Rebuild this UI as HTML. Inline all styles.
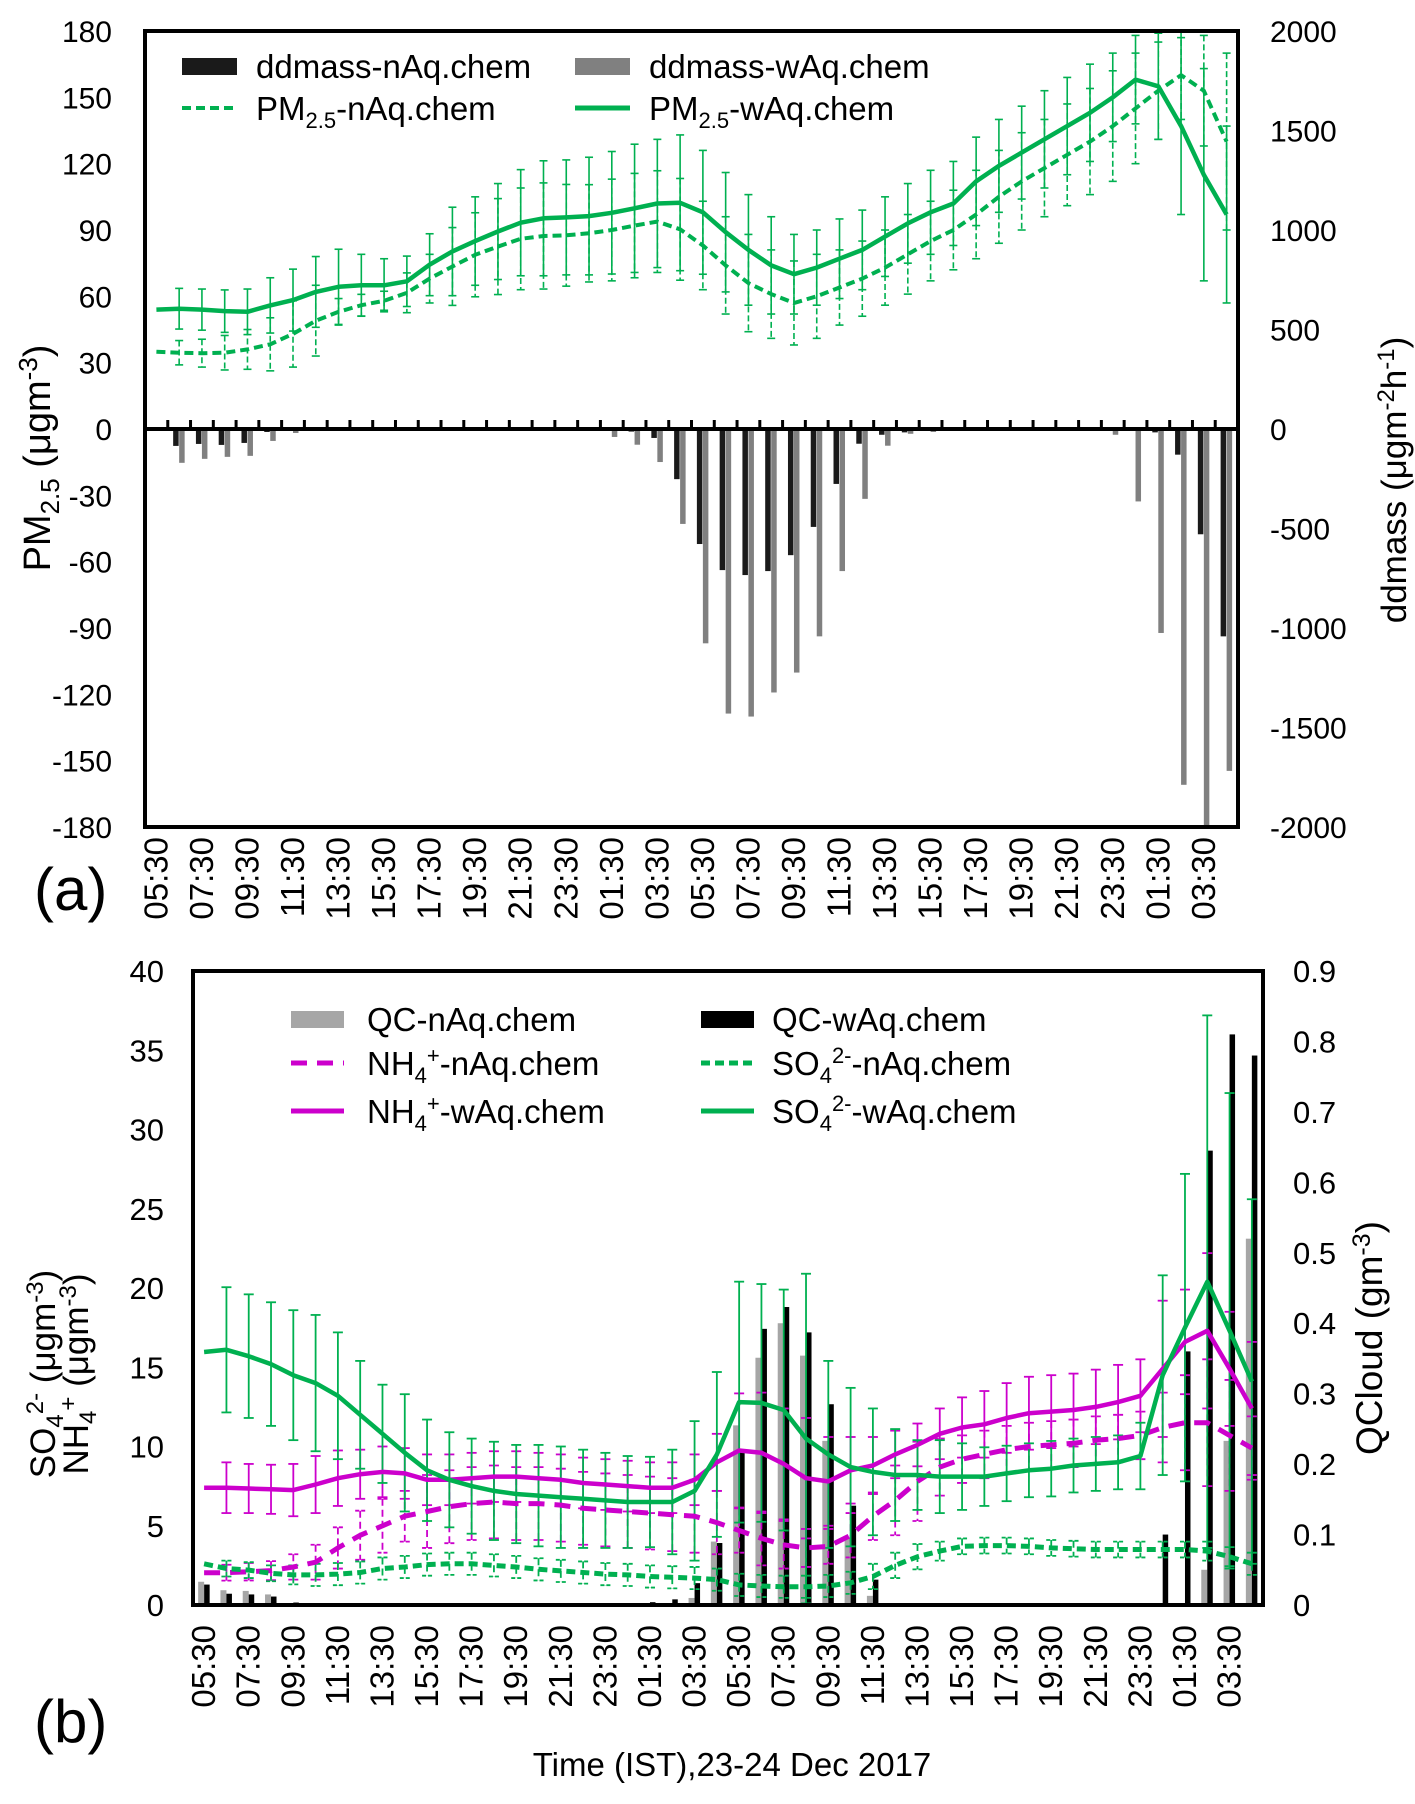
<!DOCTYPE html>
<html><head><meta charset="utf-8">
<style>
html,body{margin:0;padding:0;background:#fff;}
svg{display:block;font-family:"Liberation Sans",Arial,sans-serif;}
</style></head>
<body>
<svg id="fig" width="1415" height="1804" viewBox="0 0 1415 1804" xmlns="http://www.w3.org/2000/svg">
<defs>
<clipPath id="clipA"><rect x="145" y="31" width="1093" height="796"/></clipPath>
<clipPath id="clipB"><rect x="193" y="971" width="1070" height="634"/></clipPath>
</defs>
<g id="panelA"></g>
<g id="panelB"></g>

<!-- Panel A static text -->
<text x="34" y="910" font-size="60">(a)</text>
<text transform="translate(50,458) rotate(-90)" text-anchor="middle" font-size="38">PM<tspan font-size="26" dy="9">2.5</tspan><tspan dy="-9"> (μgm</tspan><tspan font-size="26" dy="-13">-3</tspan><tspan dy="13">)</tspan></text>
<text transform="translate(1406,480) rotate(-90)" text-anchor="middle" font-size="35">ddmass (μgm<tspan font-size="24" dy="-12">-2</tspan><tspan dy="12">h</tspan><tspan font-size="24" dy="-12">-1</tspan><tspan dy="12">)</tspan></text>

<g>
<g><rect x="182" y="58" width="55" height="17" fill="#1a1a1a"/><text x="256" y="78" font-size="33">ddmass-nAq.chem</text></g>
<g><rect x="575" y="58" width="55" height="17" fill="#808080"/><text x="649" y="78" font-size="33">ddmass-wAq.chem</text></g>
<g><line x1="182" y1="108" x2="237" y2="108" stroke="#00B050" stroke-width="4" stroke-dasharray="9,5"/><text x="256" y="120" font-size="33">PM<tspan font-size="22" dy="8">2.5</tspan><tspan dy="-8">-nAq.chem</tspan></text></g>
<g><line x1="575" y1="108" x2="630" y2="108" stroke="#00B050" stroke-width="5"/><text x="649" y="120" font-size="33">PM<tspan font-size="22" dy="8">2.5</tspan><tspan dy="-8">-wAq.chem</tspan></text></g>
</g>

<!-- Panel B static text -->
<text x="34" y="1742" font-size="60">(b)</text>
<text transform="translate(55,1374) rotate(-90)" text-anchor="middle" font-size="35">SO<tspan font-size="24" dy="8">4</tspan><tspan font-size="24" dy="-20">2-</tspan><tspan dy="12"> (μgm</tspan><tspan font-size="24" dy="-12">-3</tspan><tspan dy="12">)</tspan></text>
<text transform="translate(88,1374) rotate(-90)" text-anchor="middle" font-size="35">NH<tspan font-size="24" dy="8">4</tspan><tspan font-size="24" dy="-20">+</tspan><tspan dy="12"> (μgm</tspan><tspan font-size="24" dy="-12">-3</tspan><tspan dy="12">)</tspan></text>
<text transform="translate(1382,1338) rotate(-90)" text-anchor="middle" font-size="37">QCloud (gm<tspan font-size="25" dy="-12">-3</tspan><tspan dy="12">)</tspan></text>
<text x="732" y="1776" text-anchor="middle" font-size="33">Time (IST),23-24 Dec 2017</text>

<g>
<g><rect x="291" y="1011" width="53" height="17" fill="#A6A6A6"/><text x="367" y="1031" font-size="33">QC-nAq.chem</text></g>
<g><rect x="701" y="1011" width="53" height="17" fill="#000"/><text x="772" y="1031" font-size="33">QC-wAq.chem</text></g>
<g><line x1="291" y1="1063" x2="344" y2="1063" stroke="#CC00CC" stroke-width="5" stroke-dasharray="16,10"/><text x="367" y="1075" font-size="33">NH<tspan font-size="22" dy="8">4</tspan><tspan font-size="22" dy="-20">+</tspan><tspan dy="12">-nAq.chem</tspan></text></g>
<g><line x1="701" y1="1063" x2="754" y2="1063" stroke="#00B050" stroke-width="5" stroke-dasharray="9,5"/><text x="772" y="1075" font-size="33">SO<tspan font-size="22" dy="8">4</tspan><tspan font-size="22" dy="-20">2-</tspan><tspan dy="12">-nAq.chem</tspan></text></g>
<g><line x1="291" y1="1111" x2="344" y2="1111" stroke="#CC00CC" stroke-width="5"/><text x="367" y="1123" font-size="33">NH<tspan font-size="22" dy="8">4</tspan><tspan font-size="22" dy="-20">+</tspan><tspan dy="12">-wAq.chem</tspan></text></g>
<g><line x1="701" y1="1111" x2="754" y2="1111" stroke="#00B050" stroke-width="5"/><text x="772" y="1123" font-size="33">SO<tspan font-size="22" dy="8">4</tspan><tspan font-size="22" dy="-20">2-</tspan><tspan dy="12">-wAq.chem</tspan></text></g>
</g>
</svg>

<script>
// ---------- shared categories ----------
const timeLabels = ["05:30","07:30","09:30","11:30","13:30","15:30","17:30","19:30","21:30","23:30","01:30","03:30","05:30","07:30","09:30","11:30","13:30","15:30","17:30","19:30","21:30","23:30","01:30","03:30"];
const nCats = 48;

// ---------- panel (a) data ----------
const pmTicks = [-180,-150,-120,-90,-60,-30,0,30,60,90,120,150,180];
const ddTicks = [-2000,-1500,-1000,-500,0,500,1000,1500,2000];
const pmNaq = [34.9,34.5,34.3,34.5,36,38.3,43,49,53,56,58,61.6,68,73.5,78.8,82.5,86,87.3,87.6,88.5,90,92,93.8,90.3,83,74,66,61,57,60,64,68,73,79,85,90,97,105,112,118,124,130,137,145,153,160,153,130];
const pmNaqErr = [0,5.5,6.3,7.8,9,12,15,16,6,4.9,4.3,9,11,17.6,19,21.7,23,24,23,22,23,23.6,23,23,20,22,22,20,19,19,17,17,17,18,18,18,20,21,22,22,23,24,25,25,22,20,25,40];
const pmWaq = [54,54.4,54,53.3,53,55.9,58.3,62,64.3,65,65,66.8,74.3,80.3,85,89.3,93.3,95.3,95.7,96.3,97.8,99.8,102,102.3,98,89,81,74,70,73,77,81,87,93,98,102,112,119,125,131,137,143,150,158,155,137,115,97];
const pmWaqErr = [0,9.2,9.3,9.6,10.3,12.5,14,16,17,14,12,11.4,14,20,20,21.7,24,26,26,26.6,27.7,29,29,30.7,28,27,25,22,18,17,18,18,18,18,19,19,20,21,21,22,22,22,20,20,24,40,48,40];
const ddNaq = [0,-85,-75,-80,-70,-15,-5,-5,-5,-3,-3,-3,-3,-3,-3,-3,-3,-3,-3,-5,-5,-13,-45,-252,-578,-709,-734,-714,-634,-492,-276,-74,-29,-17,-5,-5,-5,-5,-5,-5,-5,-5,-5,-5,-17,-129,-529,-1042];
const ddWaq = [0,-170,-150,-140,-135,-60,-20,-10,-10,-8,-8,-8,-8,-8,-5,-5,-5,-5,-10,-10,-40,-79,-166,-477,-1077,-1430,-1445,-1324,-1224,-1042,-714,-351,-84,-24,-15,-10,-10,-10,-10,-10,-10,-10,-29,-364,-1025,-1788,-2000,-1718];

// ---------- panel (b) data ----------
const leftTicksB = [0,5,10,15,20,25,30,35,40];
const qcTicks = [0,0.1,0.2,0.3,0.4,0.5,0.6,0.7,0.8,0.9];
const so4Waq = [15.96,16.1,15.7,15.2,14.5,14.0,13.2,12.0,10.8,9.6,8.5,7.9,7.5,7.2,7.0,6.9,6.8,6.7,6.6,6.5,6.5,6.5,7.2,9.5,12.8,12.75,12.3,10.5,9.5,8.7,8.4,8.2,8.2,8.1,8.1,8.1,8.3,8.5,8.6,8.8,8.9,9.0,9.4,14.5,17.5,20.4,17.3,14.1];
const so4WaqErr = [0,3.95,3.9,3.9,4.1,4.3,4.0,3.4,3.1,3.7,3.2,3.0,3.0,3.1,3.1,3.2,3.2,3.1,3.0,2.9,2.85,3.3,4.4,5.2,7.6,7.5,7.6,10.4,5.9,5.0,4.0,2.9,2.2,2.3,2.1,1.85,1.75,1.7,1.75,1.7,1.7,1.7,2.1,6.3,9.7,16.8,15,11.5];
const so4Naq = [2.6,2.3,2.2,2.0,1.9,1.9,1.95,2.05,2.3,2.4,2.55,2.6,2.6,2.5,2.4,2.25,2.15,2.05,1.95,1.9,1.8,1.75,1.7,1.6,1.27,1.2,1.15,1.15,1.2,1.4,1.8,2.5,3.05,3.4,3.7,3.75,3.75,3.7,3.6,3.55,3.5,3.5,3.5,3.5,3.5,3.4,3.05,2.6];
const so4NaqErr = [0,0.5,0.5,0.5,0.6,0.7,0.7,0.7,0.7,0.7,0.7,0.7,0.7,0.7,0.7,0.7,0.7,0.7,0.7,0.7,0.7,0.7,0.7,0.7,0.7,0.7,0.7,0.7,0.7,0.7,0.8,0.8,0.8,0.6,0.5,0.5,0.5,0.5,0.5,0.5,0.5,0.5,0.5,0.5,0.5,0.6,0.6,0.7];
const nh4Waq = [7.4,7.4,7.35,7.3,7.25,7.6,8.0,8.25,8.4,8.3,7.9,7.9,8.0,8.1,8.1,8.0,7.9,7.7,7.6,7.5,7.4,7.4,7.9,9.0,9.75,9.6,8.9,8.0,7.8,8.5,8.8,9.5,10.1,10.8,11.2,11.4,11.8,12.1,12.2,12.3,12.5,12.8,13.2,14.9,16.6,17.3,14.9,12.4];
const nh4WaqErr = [0,1.6,1.55,1.55,1.65,1.8,1.75,1.55,1.6,1.6,1.6,1.6,1.6,1.6,1.6,1.6,1.6,1.6,1.6,1.6,1.6,1.6,1.6,1.8,3.6,3.8,3.5,3.8,2.8,2.1,1.8,1.5,1.35,1.6,1.9,2.1,2.2,2.3,2.3,2.3,2.35,2.35,2.3,4.3,3.3,4.9,3.6,4.2];
const nh4Naq = [2.04,2.04,2.1,2.17,2.4,2.7,3.6,4.4,5.0,5.6,5.9,6.2,6.4,6.5,6.4,6.4,6.3,6.1,6.0,5.9,5.8,5.7,5.6,5.2,4.7,4.2,3.8,3.6,3.7,4.4,5.6,6.6,7.8,8.7,9.2,9.5,9.8,10.0,10.1,10.2,10.4,10.5,10.7,11.2,11.5,11.5,10.7,9.9];
const nh4NaqErr = [0,0.5,0.55,0.6,0.8,1.1,1.3,1.55,1.7,1.6,2.3,2.3,2.3,2.3,2.3,2.3,2.3,2.3,2.3,2.3,2.3,2.3,2.3,2.0,1.4,1.7,1.5,1.2,1.1,1.4,1.5,2.2,2.5,1.8,1.5,1.5,1.5,1.5,1.5,1.5,1.5,1.5,1.5,2.2,3.0,4.0,3.5,2.0];
const qcNaq = [0.033,0.021,0.02,0.015,0,0,0,0,0,0,0,0,0,0,0,0,0,0,0,0,0,0,0.01,0.09,0.255,0.351,0.40,0.354,0.233,0.095,0.013,0,0,0,0,0,0,0,0,0,0,0,0,0,0,0.05,0.233,0.52];
const qcWaq = [0.029,0.016,0.015,0.012,0.0035,0,0,0,0,0,0,0,0,0,0,0,0,0,0,0,0.004,0.008,0.031,0.088,0.22,0.392,0.423,0.387,0.285,0.141,0.036,0.002,0,0,0,0,0,0,0,0,0,0,0,0.1,0.36,0.645,0.81,0.78];

const NS = "http://www.w3.org/2000/svg";
function mk(tag, attrs, parent) {
  const e = document.createElementNS(NS, tag);
  for (const k in attrs) e.setAttribute(k, attrs[k]);
  parent.appendChild(e);
  return e;
}

// ---------- Panel A ----------
(function(){
  const g = document.getElementById('panelA');
  const L=145,R=1238,T=31,B=827;
  const w=(R-L)/nCats;
  const xc=i=>L+(i+0.5)*w;
  const yL=v=>T+(180-v)/360*(B-T);
  const yR=v=>T+(2000-v)/4000*(B-T);
  const clip = mk('g',{'clip-path':'url(#clipA)'},g);
  ddNaq.forEach((v,i)=>{
    if(!v) return;
    const r = mk('rect',{x:xc(i)-6,y:yR(0),width:5.5,height:yR(v)-yR(0),fill:'#1a1a1a'},clip);
    
    
  });
  ddWaq.forEach((v,i)=>{
    if(!v) return;
    const r = mk('rect',{x:xc(i),y:yR(0),width:5.5,height:yR(v)-yR(0),fill:'#808080'},clip);
    
    
  });
  function errs(vals, e, dash, name){
    vals.forEach((v,i)=>{
      if(!e[i]) return;
      const x=xc(i);
      const t=Math.max(-180,Math.min(180,v+e[i])), b=Math.max(-180,Math.min(180,v-e[i]));
      const eg = mk('g',{stroke:'#00B050','stroke-width':1.6,fill:'none'},clip);
      
      
      const a={x1:x,y1:yL(t),x2:x,y2:yL(b)};
      if(dash) a['stroke-dasharray']='6,3';
      mk('line',a,eg);
      if(v+e[i]<180) mk('line',{x1:x-4,y1:yL(t),x2:x+4,y2:yL(t)},eg);
      if(v-e[i]>-180) mk('line',{x1:x-4,y1:yL(b),x2:x+4,y2:yL(b)},eg);
    });
  }
  errs(pmNaq,pmNaqErr,true,'pm25-naq-error-bar');
  errs(pmWaq,pmWaqErr,false,'pm25-waq-error-bar');
  const lp = v=>v.map((d,i)=>xc(i).toFixed(1)+','+yL(d).toFixed(1)).join(' ');
  const l1 = mk('polyline',{points:lp(pmNaq),fill:'none',stroke:'#00B050','stroke-width':4,'stroke-dasharray':'9,5'},clip);
  
  
  const l2 = mk('polyline',{points:lp(pmWaq),fill:'none',stroke:'#00B050','stroke-width':4.5,'stroke-linejoin':'round'},clip);
  
  
  const z = mk('line',{x1:L,y1:yL(0),x2:R,y2:yL(0),stroke:'#000','stroke-width':4},g);
  
  
  for(let i=0;i<=nCats;i++){
    const t = mk('line',{x1:L+i*w,y1:yL(0),x2:L+i*w,y2:yL(0)-9,stroke:'#000','stroke-width':3},g);
    
    
  }
  const box = mk('rect',{x:L,y:T,width:R-L,height:B-T,fill:'none',stroke:'#000','stroke-width':4},g);
  
  
  pmTicks.forEach(v=>{
    const t = mk('text',{x:112,y:yL(v)+11,'text-anchor':'end','font-size':30},g);
    t.textContent=v;
    
    
  });
  ddTicks.forEach(v=>{
    const t = mk('text',{x:1270,y:yR(v)+11,'font-size':30},g);
    t.textContent=v;
    
    
  });
  timeLabels.forEach((s,k)=>{
    const x=xc(2*k)+11, y=B+10;
    const t = mk('text',{transform:`translate(${x},${y}) rotate(-90)`,'text-anchor':'end','font-size':33},g);
    t.textContent=s;
    
    
  });
})();

// ---------- Panel B ----------
(function(){
  const g = document.getElementById('panelB');
  const L=193,R=1263,T=971,B=1605;
  const w=(R-L)/nCats;
  const xc=i=>L+(i+0.5)*w;
  const yL=v=>B-v/40*(B-T);
  const yR=v=>B-v/0.9*(B-T);
  const clip = mk('g',{'clip-path':'url(#clipB)'},g);
  qcNaq.forEach((v,i)=>{
    if(!v) return;
    const r = mk('rect',{x:xc(i)-6,y:yR(v),width:6,height:yR(0)-yR(v),fill:'#A6A6A6'},clip);
    
    
  });
  qcWaq.forEach((v,i)=>{
    if(!v) return;
    const r = mk('rect',{x:xc(i),y:yR(v),width:5.5,height:yR(0)-yR(v),fill:'#000'},clip);
    
    
  });
  function errs(vals,e,color,dash,name){
    vals.forEach((v,i)=>{
      if(!e[i]) return;
      const x=xc(i);
      const t=Math.min(40,v+e[i]), b=Math.max(0,v-e[i]);
      const eg = mk('g',{stroke:color,'stroke-width':1.8,fill:'none'},clip);
      
      
      const a={x1:x,y1:yL(t),x2:x,y2:yL(b)};
      if(dash) a['stroke-dasharray']='7,4';
      mk('line',a,eg);
      const ca={x1:x-5,y1:yL(t),x2:x+5,y2:yL(t)};
      const cb={x1:x-5,y1:yL(b),x2:x+5,y2:yL(b)};
      if(dash){ca['stroke-dasharray']='4,2';cb['stroke-dasharray']='4,2';}
      mk('line',ca,eg); mk('line',cb,eg);
    });
  }
  errs(nh4Naq,nh4NaqErr,'#CC00CC',true,'nh4-naq-error-bar');
  errs(so4Naq,so4NaqErr,'#00B050',true,'so4-naq-error-bar');
  errs(nh4Waq,nh4WaqErr,'#CC00CC',false,'nh4-waq-error-bar');
  errs(so4Waq,so4WaqErr,'#00B050',false,'so4-waq-error-bar');
  const lp = v=>v.map((d,i)=>xc(i).toFixed(1)+','+yL(d).toFixed(1)).join(' ');
  const a1 = mk('polyline',{points:lp(nh4Naq),fill:'none',stroke:'#CC00CC','stroke-width':5,'stroke-dasharray':'16,10'},clip);
  
  
  const a2 = mk('polyline',{points:lp(so4Naq),fill:'none',stroke:'#00B050','stroke-width':5,'stroke-dasharray':'9,5'},clip);
  
  
  const a3 = mk('polyline',{points:lp(nh4Waq),fill:'none',stroke:'#CC00CC','stroke-width':4.5,'stroke-linejoin':'round'},clip);
  
  
  const a4 = mk('polyline',{points:lp(so4Waq),fill:'none',stroke:'#00B050','stroke-width':4.5,'stroke-linejoin':'round'},clip);
  
  
  const box = mk('rect',{x:L,y:T,width:R-L,height:B-T,fill:'none',stroke:'#000','stroke-width':4},g);
  
  
  leftTicksB.forEach(v=>{
    const t = mk('text',{x:164,y:yL(v)+11,'text-anchor':'end','font-size':31},g);
    t.textContent=v;
    
    
  });
  qcTicks.forEach(v=>{
    const t = mk('text',{x:1293,y:yR(v)+11,'font-size':31},g);
    t.textContent=v===0?'0':v.toFixed(1);
    
    
  });
  timeLabels.forEach((s,k)=>{
    const x=xc(2*k)+11, y=B+20;
    const t = mk('text',{transform:`translate(${x},${y}) rotate(-90)`,'text-anchor':'end','font-size':33},g);
    t.textContent=s;
    
    
  });
})();
</script>
</body></html>
